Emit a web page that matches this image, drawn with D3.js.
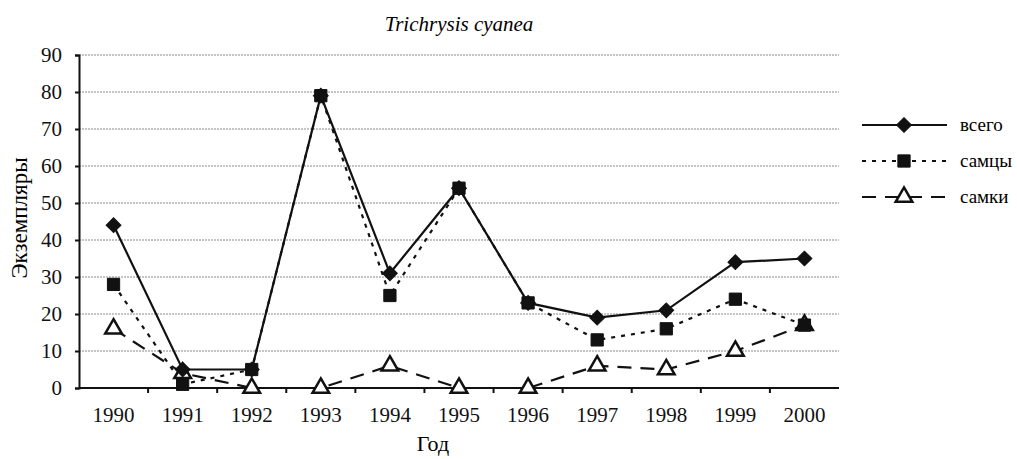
<!DOCTYPE html>
<html lang="ru">
<head>
    <meta charset="UTF-8">
    <title>Trichrysis cyanea</title>
    <script src="https://d3js.org/d3.v7.min.js"></script>
    <style>
        body { margin: 0; background: #fff; }
        .grid line { stroke: #8a8a8a; stroke-width: 1px; stroke-dasharray: 2,1; }
        .axis path, .axis line { stroke: #111; stroke-width: 2px; }
    </style>
</head>
<body>
<svg id="chart" width="1017" height="459"></svg>

<script>
    // данные
    const years = ["1990", "1991", "1992", "1993", "1994", "1995", "1996", "1997", "1998", "1999", "2000"];
    const total = [44, 5, 5, 79, 31, 54, 23, 19, 21, 34, 35];
    const males = [28, 1, 5, 79, 25, 54, 23, 13, 16, 24, 17];
    const females = [16, 4, 0, 0, 6, 0, 0, 6, 5, 10, 17];
    const yTicks = [0, 10, 20, 30, 40, 50, 60, 70, 80, 90];

    const serif = "'Liberation Serif', 'Times New Roman', 'DejaVu Serif', serif";

    const series = [
        {name: "всего", values: total, dash: null, symbol: d3.symbolSquare, size: 110, rot: 45, fill: "#111"},
        {name: "самцы", values: males, dash: "4,6", symbol: d3.symbolSquare, size: 150, rot: 0, fill: "#111"},
        {name: "самки", values: females, dash: "14,9", symbol: d3.symbolTriangle, size: 120, rot: 0, fill: "#fff"}
    ];

    const mLeft = 79, mRight = 839, mTop = 55, mBottom = 388;
    const svg = d3.select("#chart");

    const x = d3.scaleBand().domain(years).range([mLeft, mRight]);
    const y = d3.scaleLinear().domain([0, 90]).range([mBottom, mTop]);
    const cx = d => x(d) + x.bandwidth() / 2;

    // сетка
    svg.append("g").attr("class", "grid")
        .selectAll("line").data(yTicks.slice(1)).join("line")
        .attr("x1", mLeft).attr("x2", mRight)
        .attr("y1", d => y(d)).attr("y2", d => y(d));

    // оси
    const yAxis = svg.append("g").attr("class", "axis")
        .attr("transform", `translate(${mLeft},0)`)
        .call(d3.axisLeft(y).tickValues(yTicks).tickSize(4).tickPadding(13));
    yAxis.attr("font-family", serif).attr("font-size", 21);

    const xAxis = svg.append("g").attr("class", "axis")
        .attr("transform", `translate(0,${mBottom})`)
        .call(d3.axisBottom(x).tickSize(0).tickPadding(19));
    xAxis.select(".domain").attr("d", `M${mLeft},0H${mRight}`);
    xAxis.attr("font-family", serif).attr("font-size", 21);
    // засечки между категориями
    xAxis.selectAll(".sep").data(years.slice(1)).join("line")
        .attr("class", "sep")
        .attr("x1", d => x(d)).attr("x2", d => x(d))
        .attr("y1", 0).attr("y2", 5)
        .attr("stroke", "#111").attr("stroke-width", 1.5);
    svg.selectAll(".axis text").attr("fill", "#111");

    // линии
    const line = d3.line().x((d, i) => cx(years[i])).y(d => y(d));
    series.slice().reverse().forEach(s => {
        svg.append("path")
            .attr("d", line(s.values))
            .attr("fill", "none")
            .attr("stroke", "#111")
            .attr("stroke-width", 2.2)
            .attr("stroke-dasharray", s.dash);
    });
    series.slice().reverse().forEach(s => {
        svg.append("g").selectAll("path").data(s.values).join("path")
            .attr("transform", (d, i) => `translate(${cx(years[i])},${y(d)}) rotate(${s.rot})`)
            .attr("d", d3.symbol(s.symbol, s.size))
            .attr("fill", s.fill)
            .attr("stroke", "#111")
            .attr("stroke-width", s.fill === "#fff" ? 2.5 : 1);
    });

    // заголовок и подписи осей
    svg.append("text")
        .attr("x", 459).attr("y", 31)
        .attr("text-anchor", "middle")
        .attr("font-family", serif)
        .attr("font-size", 21).attr("font-style", "italic")
        .text("Trichrysis cyanea");

    svg.append("text")
        .attr("transform", "translate(27,218) rotate(-90)")
        .attr("text-anchor", "middle")
        .attr("font-family", serif).attr("font-size", 23)
        .text("Экземпляры");

    svg.append("text")
        .attr("x", 433).attr("y", 451)
        .attr("text-anchor", "middle")
        .attr("font-family", serif).attr("font-size", 22)
        .text("Год");

    // легенда
    const legend = svg.append("g").selectAll("g").data(series).join("g")
        .attr("transform", (d, i) => `translate(862,${125 + i * 36})`);
    legend.append("line")
        .attr("x1", 0).attr("x2", 85)
        .attr("stroke", "#111").attr("stroke-width", 2.2)
        .attr("stroke-dasharray", d => d.dash);
    legend.append("path")
        .attr("transform", d => `translate(42,0) rotate(${d.rot})`)
        .attr("d", d => d3.symbol(d.symbol, d.size)())
        .attr("fill", d => d.fill)
        .attr("stroke", "#111")
        .attr("stroke-width", d => d.fill === "#fff" ? 2.5 : 1);
    legend.append("text")
        .attr("x", 98).attr("y", 6)
        .attr("font-family", serif).attr("font-size", 19)
        .text(d => d.name);
</script>
</body>
</html>
